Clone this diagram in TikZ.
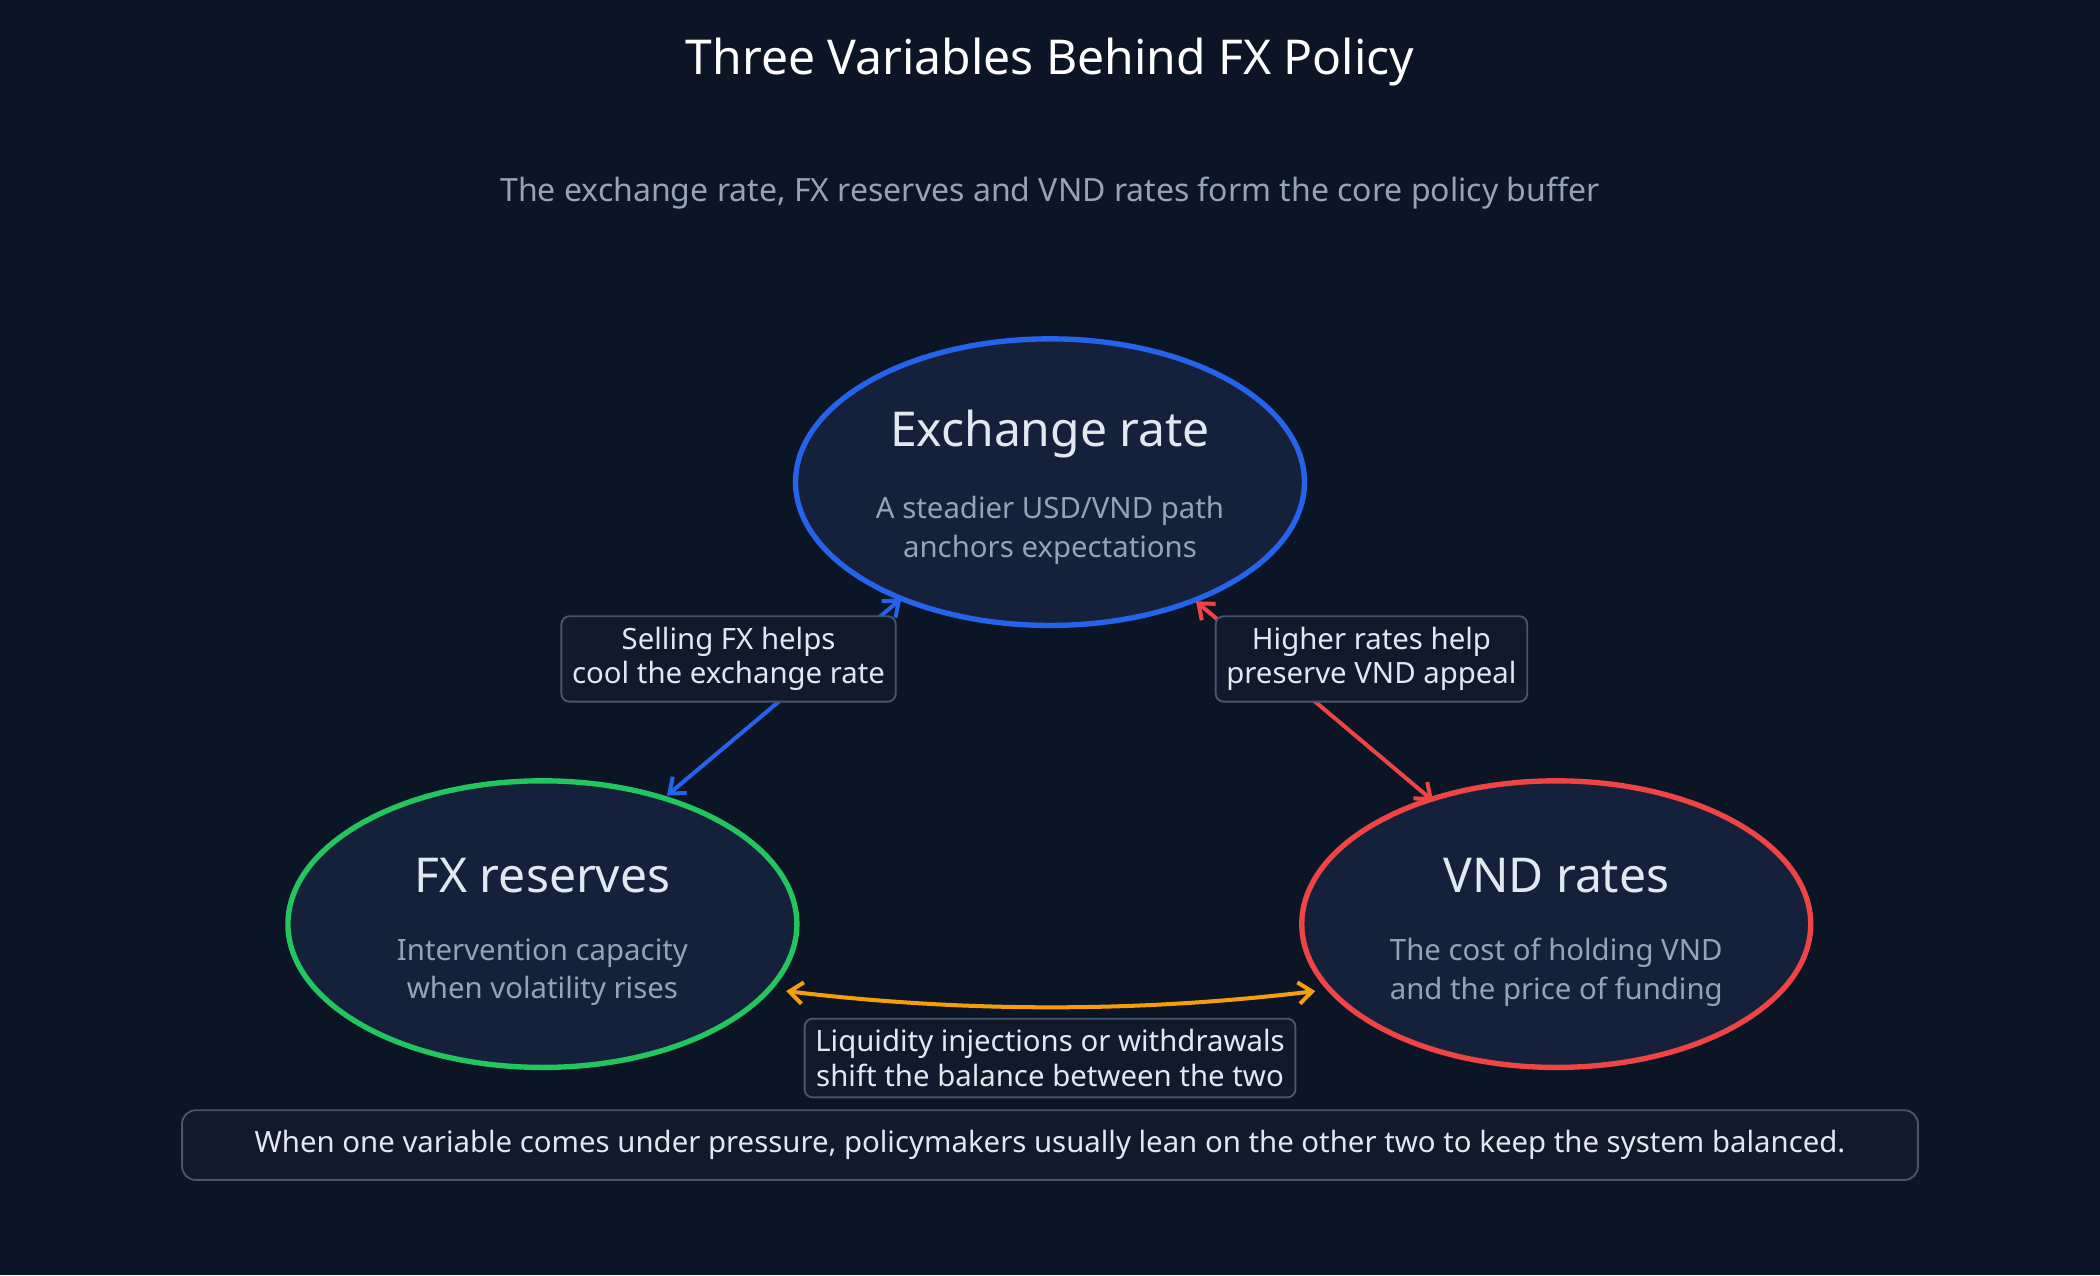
\documentclass[tikz,border=0pt]{standalone}
\usepackage{fontspec}
\setmainfont{Noto Sans}
\usetikzlibrary{arrows.meta}
\definecolor{bg}{HTML}{0B1526}
\definecolor{efill}{HTML}{15213A}
\definecolor{ttl}{HTML}{E2E8F0}
\definecolor{sub}{HTML}{94A3B8}
\definecolor{cblue}{HTML}{2563EB}
\definecolor{cgreen}{HTML}{22C55E}
\definecolor{cred}{HTML}{EF4444}
\definecolor{corange}{HTML}{F59E0B}
\definecolor{lfill}{HTML}{111A2B}
\definecolor{lborder}{HTML}{475569}
\begin{document}
\begin{tikzpicture}[x=0.5bp,y=-0.5bp,
  ell/.style={draw,line width=2bp,fill=efill},
  lbl/.style={draw=lborder,line width=0.7bp,fill=lfill,rounded corners=3bp,text=ttl,font=\fontsize{11}{13}\selectfont,align=center,inner sep=4bp},
  conn/.style={line width=1.5bp,{Straight Barb[length=5bp,width=8bp]}-{Straight Barb[length=5bp,width=8bp]}},
  head/.style={text=ttl,font=\bfseries\fontsize{18}{22}\selectfont},
  desc/.style={text=sub,font=\fontsize{11}{14.5}\selectfont,align=center}]
\fill[bg] (0,0) rectangle (1568,952);
\useasboundingbox (0,0) rectangle (1568,952);
\node[text=white,font=\bfseries\fontsize{18}{22}\selectfont] (title) at (784,46) {Three Variables Behind FX Policy};
\node[text=sub,font=\fontsize{12}{14}\selectfont] (subtitle) at (784,144) {The exchange rate, FX reserves and VND rates form the core policy buffer};
% ellipses
\draw[ell,draw=cblue] (784,360) ellipse [x radius=190,y radius=107];
\draw[ell,draw=cgreen] (405,690) ellipse [x radius=190,y radius=107];
\draw[ell,draw=cred] (1162,690) ellipse [x radius=190,y radius=107];
\node[head] (exh) at (784,324) {Exchange rate};
\node[desc] (exd) at (784,396) {A steadier USD/VND path\\anchors expectations};
\node[head] (fxh) at (405,654) {FX reserves};
\node[desc] (fxd) at (405,726) {Intervention capacity\\when volatility rises};
\node[head] (vnh) at (1162,654) {VND rates};
\node[desc] (vnd) at (1162,726) {The cost of holding VND\\and the price of funding};
% connector endpoints
\coordinate (b1) at (673,447);
\coordinate (b2) at (498,594);
\coordinate (r1) at (893,449);
\coordinate (r2) at (1070,598);
\coordinate (o1) at (587,740);
\coordinate (o2) at (982,740);
\draw[conn,cblue] (b2) -- (b1);
\draw[conn,cred] (r1) -- (r2);
\draw[conn,corange] (o1) .. controls (720,756) and (850,756) .. (o2);
\node[lbl] (lb) at (544,492) {Selling FX helps\\cool the exchange rate};
\node[lbl] (lr) at (1024,492) {Higher rates help\\preserve VND appeal};
\node[lbl] (lo) at (784,790) {Liquidity injections or withdrawals\\shift the balance between the two};
\node[lbl,minimum width=648bp,minimum height=26bp,inner sep=2bp,rounded corners=5bp] (note) at (784,855) {When one variable comes under pressure, policymakers usually lean on the other two to keep the system balanced.};
\end{tikzpicture}
\end{document}
